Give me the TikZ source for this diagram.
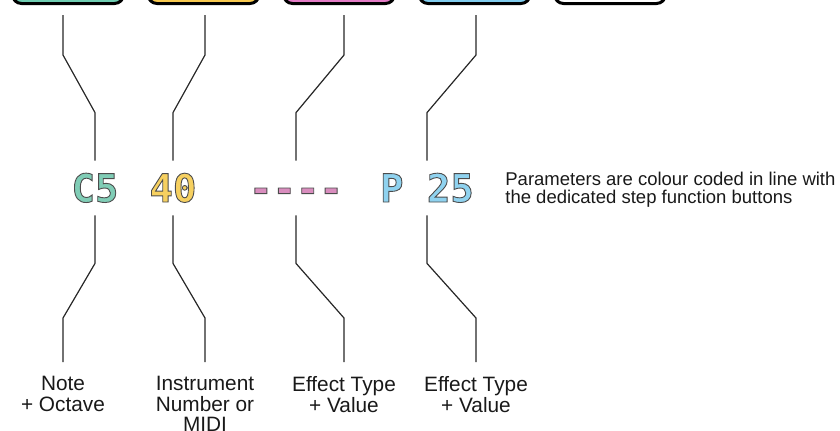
\documentclass[tikz,border=0pt]{standalone}
\usepackage{fontspec}
\setmainfont{Liberation Sans}
\newfontfamily\codefont[Ligatures=TeXOff]{DejaVu Sans Mono}
\usepackage{xcolor}
\usetikzlibrary{positioning}
\usetikzlibrary{calc}
\definecolor{keyteal}{HTML}{6FCDB2}
\definecolor{keyyellow}{HTML}{F8C94F}
\definecolor{keypink}{HTML}{E47CC6}
\definecolor{keyblue}{HTML}{80CCEE}
\definecolor{txtteal}{HTML}{80CDB6}
\definecolor{txtyellow}{HTML}{F6D060}
\definecolor{txtpink}{HTML}{D98DBE}
\definecolor{txtblue}{HTML}{8FD2EF}
\newcommand{\inked}[1]{\special{pdf:literal direct 0.3 0.3 0.3 RG 0.45 w 2 Tr}#1\special{pdf:literal direct 0 Tr}}
\tikzstyle{btn} = [rectangle, rounded corners=4.5pt, draw=black, line width=1.5pt, minimum width=55.5pt, minimum height=20pt, outer ysep=5.75pt]
\tikzstyle{wire} = [line width=0.6pt, draw=black!85]
\tikzstyle{code} = [inner sep=0pt, minimum height=27pt, text height=14pt, text depth=0pt, font=\codefont\bfseries\fontsize{19.45}{20}\selectfont]
\tikzstyle{lbl} = [anchor=north, inner xsep=0pt, inner ysep=7pt, align=center, text=black!90, font=\fontsize{10.4}{10.3}\selectfont]

\begin{document}
\begin{tikzpicture}[x=0.5pt,y=-0.5pt]
\useasboundingbox (0,0) rectangle (840,430);
% step function buttons
\node[btn, fill=keyteal] (b1) at (68,-16.5) {};
\node[btn, fill=keyyellow] (b2) at (203.5,-16.5) {};
\node[btn, fill=keypink] (b3) at (339,-16.5) {};
\node[btn, fill=keyblue] (b4) at (474.5,-16.5) {};
\node[btn, fill=white] (b5) at (610,-16.5) {};
% step row
\node[code, text=txtteal] (note) at (95,188) {\inked{C5}};
\node[code, text=txtyellow] (inst) at (173,188) {\inked{40}};
\node[code, text=txtpink] (fxa) at (296,188) {\inked{----}};
\node[code, text=txtblue] (fxb) at (427,188) {\inked{P 25}};
\node[anchor=north west, inner sep=0pt, align=left, text=black!90, font=\fontsize{9.25}{9}\selectfont] (info) at (505,171.5) {Parameters are colour coded in line with\\the dedicated step function buttons};
% labels
\node[lbl] (l1) at (63,362) {Note\\+ Octave};
\node[lbl] (l2) at (205,362) {Instrument\\Number or\\MIDI};
\node[lbl] (l3) at (344,362) {Effect Type\\+ Value};
\node[lbl] (l4) at (476,362) {Effect Type\\+ Value};
% wires
\draw[wire] (l1 |- b1.south) -- ++(0,40) -- ($(note.north)+(0,-48)$) -- (note.north);
\draw[wire] (l2 |- b2.south) -- ++(0,40) -- ($(inst.north)+(0,-48)$) -- (inst.north);
\draw[wire] (l3 |- b3.south) -- ++(0,40) -- ($(fxa.north)+(0,-48)$) -- (fxa.north);
\draw[wire] (l4 |- b4.south) -- ++(0,40) -- ($(fxb.north)+(0,-48)$) -- (fxb.north);
\draw[wire] (note.south) -- ++(0,48) -- ($(l1.north)+(0,-44)$) -- (l1.north);
\draw[wire] (inst.south) -- ++(0,48) -- ($(l2.north)+(0,-44)$) -- (l2.north);
\draw[wire] (fxa.south) -- ++(0,48) -- ($(l3.north)+(0,-44)$) -- (l3.north);
\draw[wire] (fxb.south) -- ++(0,48) -- ($(l4.north)+(0,-44)$) -- (l4.north);
\end{tikzpicture}
\end{document}
